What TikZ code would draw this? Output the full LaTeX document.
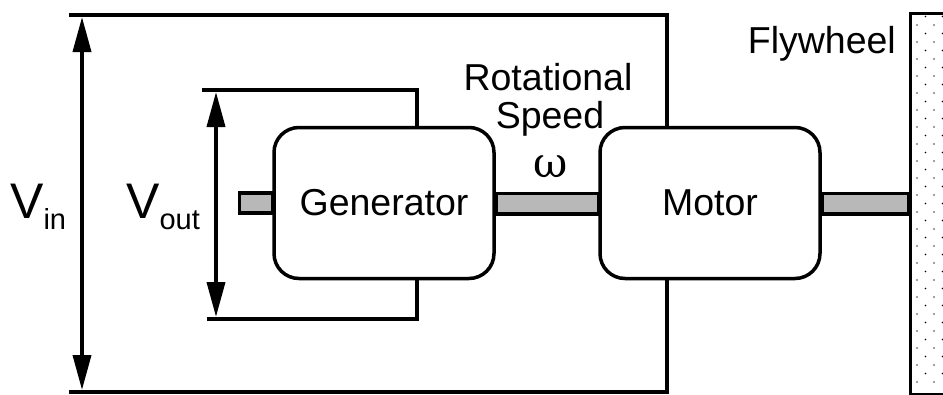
\documentclass[tikz,border=0pt]{standalone}
\usepackage{fontspec}
\setmainfont{Liberation Sans}
\newfontfamily\greekfont{DejaVu Serif}
\usetikzlibrary{arrows.meta}
\usetikzlibrary{calc}
\newcommand\lbl{\fontsize{37.5}{38}\selectfont}
\newcommand\volt[1]{{\fontsize{50}{50}\selectfont V}\raisebox{-11pt}{\fontsize{29}{29}\selectfont #1}}
\tikzstyle{wire}=[line width=3.8pt]
\tikzstyle{unit}=[draw,line width=3.5pt,rounded corners=25pt,fill=white,minimum width=220pt,minimum height=151pt,inner sep=0pt,font=\lbl]
\tikzstyle{txt}=[inner sep=0pt,font=\lbl]
\tikzstyle{shaft}=[line width=3.5pt,fill=black!28]
\tikzstyle{vhead}=[>/.tip={Triangle[length=35pt,width=18pt]}]
\tikzstyle{vspan}=[wire,vhead,<->]

\begin{document}
\begin{tikzpicture}[x=1pt,y=-1pt]
	\useasboundingbox (0,0) rectangle (943,394);
	\node[unit] (gen)   at (384,203) {Generator};
	\node[unit] (motor) at (710,203) {Motor};
	\begin{scope}
		\clip (0,0) rectangle (943,394);
		\node[draw,line width=3.5pt,anchor=north west,minimum width=60pt,minimum height=381pt,inner sep=0pt] (fly) at (908.5,11.5) {};
		\foreach \i in {0,1} \foreach \j in {1,...,22} {
			\fill[black!50] (917+17*\i,8+17*\j) circle (1.1pt);
			\fill (925.5+17*\i,-0.5+17*\j) circle (0.9pt);
		}
	\end{scope}
	% shafts
	\draw[shaft] ($(gen.west)+(-33,-10)$) rectangle ($(gen.west)+(0,10)$);
	\draw[shaft] ($(gen.east)+(0,-9.5)$) rectangle ($(motor.west)+(0,11)$);
	\draw[shaft] ($(motor.east)+(0,-9.5)$) rectangle ($(motor.east -| fly.west)+(0,11)$);
	% supply and output wires
	\coordinate (vr) at (667,15);
	\coordinate (gr) at (417,90);
	\draw[wire] (69,15) -- (vr) -- (vr |- motor.north);
	\draw[wire] (vr |- motor.south) -- (vr |- 0,392) -- (69,392);
	\draw[wire] (202,90) -- (gr) -- (gr |- gen.north);
	\draw[wire] (gr |- gen.south) -- (gr |- 0,319) -- (207,319);
	\coordinate (vintop) at (82,17);
	\coordinate (vinbot) at (82,390);
	\coordinate (vouttop) at (216,92);
	\coordinate (voutbot) at (216,317);
	\draw[vspan] (vintop) -- (vinbot);
	\draw[vspan] (vouttop) -- (voutbot);
	% labels
	\node[inner sep=0pt,anchor=base west] (vin)  at (10,218)  {\volt{in}};
	\node[inner sep=0pt,anchor=base west] (vout) at (126,218) {\volt{out}};
	\node[txt,anchor=base] (rot) at (548,90)  {Rotational};
	\node[txt,anchor=base] (spd) at (550,128) {Speed};
	\node[inner sep=0pt,anchor=base,font=\greekfont\fontsize{42}{42}\selectfont] (omega) at (551,177) {ω};
	\node[txt,anchor=base east] (flytxt) at (896,53) {Flywheel};
\end{tikzpicture}
\end{document}
